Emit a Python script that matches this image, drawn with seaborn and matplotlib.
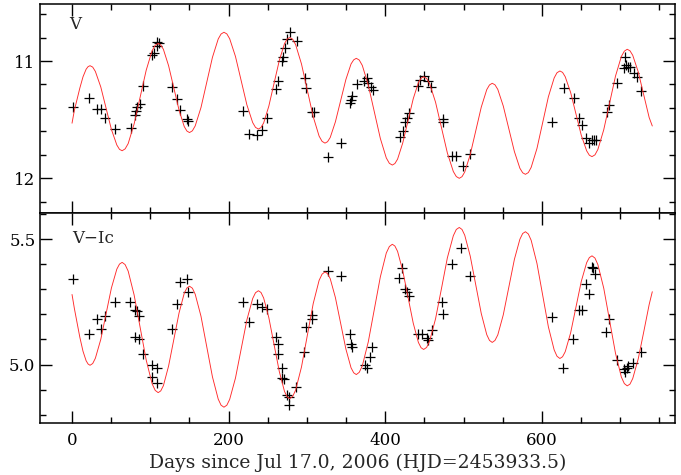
import numpy as np
import pandas as pd
import seaborn as sns
import matplotlib.pyplot as plt
from matplotlib.ticker import MultipleLocator

# observed V magnitudes
v_days = [1.7, 22.1, 32.3, 36.6, 42.5, 54.9, 74.9, 80.4, 81.7, 83.4, 86.8, 91.1,
          101.7, 104.7, 108.9, 111.1, 108.9, 128.1, 134.5, 137.9, 147.2, 148.5,
          218.7, 226, 235.8, 242.2, 248.6, 260.4, 263.4, 267.7, 268.9, 271.9, 274.1,
          278.3, 286.9, 297.5, 298.7, 306, 309.4, 327.3, 343, 354.9, 356.2, 357.5,
          363.4, 372.8, 376.2, 378.3, 381.7, 383.9, 418.7, 422.1, 425.5, 427.2,
          430.6, 441.7, 444.3, 449.4, 454.9, 458.3, 473.2, 474, 485.5, 490.2,
          498.8, 508.1, 613.2, 628.1, 640.9, 647.7, 650.7, 655.8, 660.4, 663.4,
          666.4, 669, 682.6, 686, 695.4, 706, 704.7, 707.3, 710.2, 712.4, 717.5,
          720.9, 726.4]
v_mag = [11.395, 11.313, 11.41, 11.41, 11.49, 11.58, 11.57, 11.46, 11.43, 11.395,
         11.367, 11.21, 10.95, 10.935, 10.835, 10.85, 10.87, 11.225, 11.324, 11.42,
         11.497, 11.51, 11.426, 11.625, 11.631, 11.588, 11.489, 11.241, 11.17, 11.0,
         10.963, 10.892, 10.815, 10.755, 10.83, 11.148, 11.233, 11.432, 11.432,
         11.821, 11.70, 11.355, 11.332, 11.296, 11.199, 11.17, 11.148, 11.185,
         11.225, 11.247, 11.645, 11.597, 11.517, 11.489, 11.446, 11.213, 11.162,
         11.128, 11.17, 11.225, 11.497, 11.517, 11.81, 11.81, 11.892, 11.793,
         11.517, 11.233, 11.313, 11.489, 11.546, 11.654, 11.702, 11.674, 11.674,
         11.674, 11.432, 11.375, 11.185, 10.963, 11.062, 11.034, 11.048, 11.048,
         11.1, 11.134, 11.253]

# observed V-Ic colours
vi_days = [1.7, 21.7, 32.3, 37, 42.1, 54.9, 74, 80.4, 82.6, 85.9, 80.4, 85.9, 91,
           101.7, 101.7, 108.9, 108.9, 128.1, 133.6, 137.9, 147.2, 148.5, 217.9,
           226, 235.8, 242.2, 249.4, 260.4, 263.4, 263.4, 267.7, 268.5, 271,
           274.1, 277.4, 277.4, 286, 296.6, 298.7, 306, 306.8, 326.4, 343, 354.9,
           355.8, 357.5, 374, 376.1, 380.4, 383.4, 417.5, 421.7, 425.1, 428.1,
           430.2, 441.3, 446.4, 452.8, 454.9, 459.2, 471.9, 473.2, 484.7, 497,
           508.1, 612.4, 627.3, 640, 647.7, 650.7, 655.8, 660.4, 663.4, 665.5,
           667.7, 681.3, 685.9, 695.4, 704.7, 706, 708.1, 710.2, 716.6, 726.4]
vi_col = [5.34, 5.12, 5.181, 5.14, 5.193, 5.249, 5.249, 5.219, 5.213, 5.193, 5.11,
          5.10, 5.04, 5.0, 4.951, 4.988, 4.928, 5.14, 5.241, 5.329, 5.34, 5.29,
          5.249, 5.17, 5.241, 5.23, 5.221, 5.108, 5.08, 5.04, 4.986, 4.948, 4.941,
          4.88, 4.871, 4.838, 4.911, 5.05, 5.15, 5.18, 5.197, 5.372, 5.352, 5.121,
          5.08, 5.068, 4.997, 4.988, 5.028, 5.068, 5.343, 5.383, 5.30, 5.29, 5.272,
          5.121, 5.121, 5.104, 5.097, 5.137, 5.25, 5.20, 5.40, 5.463, 5.352, 5.19,
          4.988, 5.10, 5.219, 5.219, 5.32, 5.28, 5.39, 5.383, 5.36, 5.13, 5.18,
          5.02, 4.981, 4.971, 4.988, 4.993, 5.006, 5.05]

# model curves
model_days = [0, 3, 6, 10, 14, 18, 20.5, 23,
              26.4, 29.8, 36.7, 43.5, 50.3, 57.2, 60.6, 64,
              67.8, 71.7, 79.3, 87, 94.7, 102.3, 106.2, 110,
              113.3, 116.7, 123.3, 130, 136.7, 143.3, 146.7, 150,
              153.7, 157.3, 164.7, 172, 179.3, 186.7, 190.3, 194,
              197.7, 201.3, 208.7, 216, 223.3, 230.7, 234.3, 238,
              241.3, 244.7, 251.3, 258, 264.7, 271.3, 274.7, 278,
              281.8, 285.5, 293, 300.5, 308, 315.5, 319.3, 323,
              326.3, 329.7, 336.3, 343, 349.7, 356.3, 359.7, 363,
              366.8, 370.7, 378.3, 386, 393.7, 401.3, 405.2, 409,
              412.3, 415.7, 422.3, 429, 435.7, 442.3, 445.7, 449,
              452.8, 456.6, 464.2, 471.8, 479.3, 486.9, 490.7, 494.5,
              498, 501.5, 508.5, 515.6, 522.6, 529.6, 533.1, 536.6,
              540.1, 543.7, 550.7, 557.8, 564.9, 571.9, 575.5, 579,
              582.7, 586.3, 593.7, 601, 608.3, 615.7, 619.3, 623,
              626.4, 629.8, 636.7, 643.5, 650.3, 657.2, 660.6, 664,
              667.8, 671.5, 679, 686.5, 694, 701.5, 705.3, 709,
              712.5, 716, 723, 730, 737, 741]
model_v = [11.53, 11.42, 11.34, 11.23, 11.135, 11.07, 11.048, 11.04,
           11.052, 11.089, 11.221, 11.403, 11.584, 11.716, 11.753, 11.765,
           11.749, 11.704, 11.536, 11.308, 11.079, 10.911, 10.866, 10.85,
           10.863, 10.901, 11.04, 11.23, 11.42, 11.559, 11.597, 11.61,
           11.595, 11.553, 11.396, 11.183, 10.969, 10.812, 10.770, 10.755,
           10.769, 10.81, 10.961, 11.168, 11.374, 11.525, 11.566, 11.58,
           11.567, 11.528, 11.385, 11.19, 10.995, 10.852, 10.813, 10.80,
           10.815, 10.86, 11.025, 11.25, 11.475, 11.64, 11.685, 11.70,
           11.688, 11.652, 11.519, 11.339, 11.158, 11.025, 10.99, 10.977,
           10.992, 11.038, 11.205, 11.432, 11.66, 11.826, 11.872, 11.887,
           11.874, 11.837, 11.699, 11.511, 11.322, 11.184, 11.147, 11.134,
           11.149, 11.192, 11.351, 11.567, 11.784, 11.942, 11.985, 12.0,
           11.986, 11.946, 11.798, 11.595, 11.393, 11.244, 11.204, 11.19,
           11.203, 11.242, 11.384, 11.578, 11.772, 11.914, 11.953, 11.966,
           11.951, 11.907, 11.746, 11.526, 11.305, 11.144, 11.10, 11.085,
           11.097, 11.134, 11.268, 11.45, 11.633, 11.766, 11.803, 11.815,
           11.80, 11.754, 11.586, 11.358, 11.129, 10.961, 10.916, 10.90,
           10.913, 10.951, 11.092, 11.285, 11.482, 11.554]
model_vi = [5.279, 5.223, 5.174, 5.108, 5.053, 5.015, 5.002, 4.997,
            5.004, 5.025, 5.100, 5.202, 5.305, 5.380, 5.400, 5.407,
            5.398, 5.372, 5.277, 5.148, 5.018, 4.923, 4.897, 4.888,
            4.895, 4.916, 4.994, 5.100, 5.206, 5.284, 5.305, 5.312,
            5.304, 5.280, 5.192, 5.071, 4.951, 4.862, 4.838, 4.830,
            4.838, 4.861, 4.946, 5.062, 5.178, 5.263, 5.286, 5.294,
            5.287, 5.265, 5.187, 5.079, 4.972, 4.893, 4.871, 4.864,
            4.873, 4.898, 4.990, 5.117, 5.243, 5.335, 5.360, 5.369,
            5.362, 5.342, 5.267, 5.165, 5.062, 4.987, 4.967, 4.960,
            4.969, 4.995, 5.090, 5.220, 5.349, 5.444, 5.470, 5.479,
            5.472, 5.451, 5.374, 5.270, 5.165, 5.088, 5.067, 5.060,
            5.068, 5.093, 5.182, 5.303, 5.425, 5.513, 5.538, 5.546,
            5.538, 5.515, 5.432, 5.317, 5.203, 5.119, 5.096, 5.088,
            5.096, 5.118, 5.198, 5.309, 5.419, 5.499, 5.522, 5.529,
            5.520, 5.495, 5.403, 5.277, 5.150, 5.058, 5.033, 5.024,
            5.031, 5.051, 5.126, 5.229, 5.331, 5.406, 5.426, 5.433,
            5.424, 5.398, 5.304, 5.174, 5.045, 4.950, 4.924, 4.915,
            4.922, 4.944, 5.022, 5.129, 5.239, 5.290]

sns.set_style('ticks')
plt.rcParams['font.family'] = ['DejaVu Serif']

fig = plt.figure(figsize=(6.81, 4.75), dpi=100)
ax1 = fig.add_axes([0.0592, 0.551, 0.9320, 0.4406])
ax2 = fig.add_axes([0.0592, 0.1105, 0.9320, 0.4405])

sns.lineplot(x=model_days, y=model_v, ax=ax1, color='#ff2a2a', lw=0.65, sort=False, estimator=None)
sns.scatterplot(x=v_days, y=v_mag, ax=ax1, marker='+', color='black', s=45, linewidth=0.9)
sns.lineplot(x=model_days, y=model_vi, ax=ax2, color='#ff2a2a', lw=0.65, sort=False, estimator=None)
sns.scatterplot(x=vi_days, y=vi_col, ax=ax2, marker='+', color='black', s=45, linewidth=0.9)

ax1.set_ylim(12.298, 10.514)
ax2.set_ylim(4.769, 5.6025)
for ax in (ax1, ax2):
    ax.set_xlim(-40.5, 770)
    ax.xaxis.set_major_locator(MultipleLocator(200))
    ax.xaxis.set_minor_locator(MultipleLocator(50))
    ax.tick_params(which='both', direction='in', top=True, right=True,
                   width=1.0, labelsize=12, colors='black')
    ax.tick_params(which='major', length=8.5)
    ax.tick_params(which='minor', length=4.5)
    ax.tick_params(axis='x', which='major', pad=7)
    ax.set_xlabel('')
    ax.set_ylabel('')
    for sp in ax.spines.values():
        sp.set_linewidth(1.1)
        sp.set_color('black')

ax1.yaxis.set_major_locator(MultipleLocator(1))
ax1.yaxis.set_minor_locator(MultipleLocator(0.2))
ax1.set_yticks([11, 12])
ax1.set_yticklabels(['11', '12'])
ax1.tick_params(labelbottom=False)
ax2.yaxis.set_major_locator(MultipleLocator(0.5))
ax2.yaxis.set_minor_locator(MultipleLocator(0.1))
ax2.set_yticks([5.0, 5.5])
ax2.set_yticklabels(['5.0', '5.5'])

ax1.text(0.045, 0.90, 'V', transform=ax1.transAxes, fontsize=12, va='center', ha='left')
ax2.text(0.05, 0.88, 'V\u2212Ic', transform=ax2.transAxes, fontsize=12, va='center', ha='left')
ax2.set_xlabel('Days since Jul 17.0, 2006 (HJD=2453933.5)', fontsize=13.5, labelpad=3)

fig.savefig('out.png', dpi=100)
